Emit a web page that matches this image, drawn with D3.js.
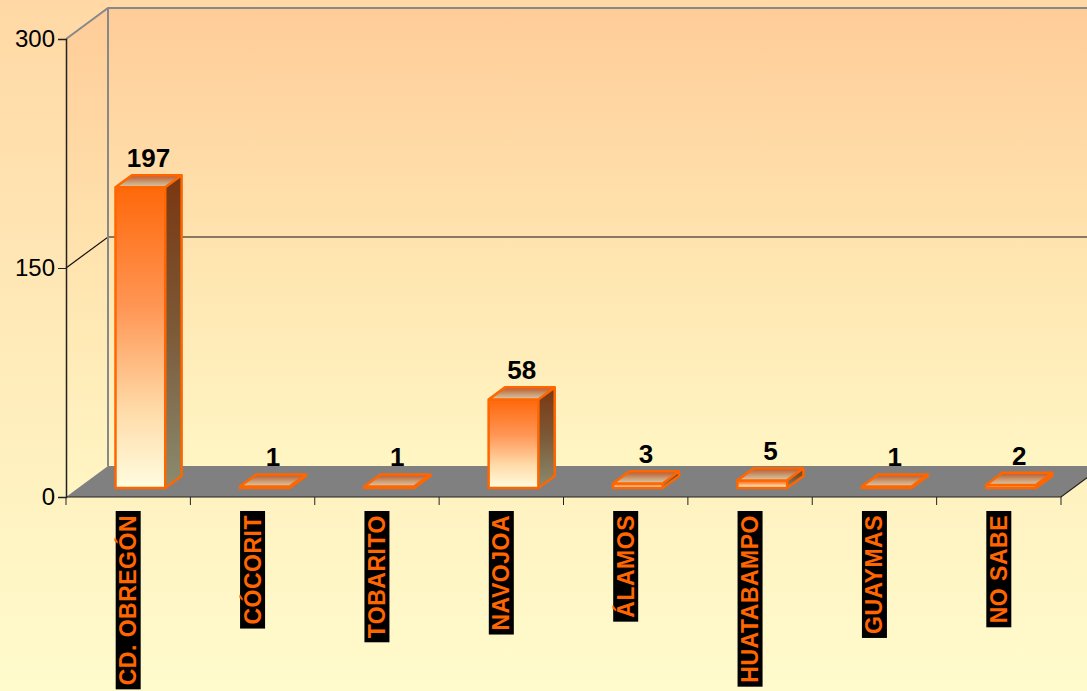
<!DOCTYPE html>
<html>
<head>
<meta charset="utf-8">
<script src="https://cdn.jsdelivr.net/npm/d3@7"></script>
<style>
  body { margin: 0; overflow: hidden; }
  text { font-family: Arial, "Liberation Sans", sans-serif; }
</style>
</head>
<body>
<script>
var svgWidth = 1087;
var svgHeight = 691;

// data
var categories = ["CD. OBREGÓN", "CÓCORIT", "TOBARITO", "NAVOJOA", "ÁLAMOS", "HUATABAMPO", "GUAYMAS", "NO SABE"];
var values = [197, 1, 1, 58, 3, 5, 1, 2];
var yTicks = [0, 150, 300];

var margin = { top: 39, right: 26, bottom: 194, left: 66 };
var width = svgWidth - margin.left - margin.right;   // front plane width
var height = svgHeight - margin.top - margin.bottom; // front plane height

// depth of the 3d box
var depthX = 42;
var depthY = 31;
var zFront = 0.29, zBack = 0.68;

var svg = d3.select("body")
  .append("svg")
  .attr("width", svgWidth)
  .attr("height", svgHeight);

var defs = svg.append("defs");

function linGrad(id, stops, x2, y2) {
  var g = defs.append("linearGradient").attr("id", id)
    .attr("x1", 0).attr("y1", 0).attr("x2", x2).attr("y2", y2);
  stops.forEach(function (s) {
    g.append("stop").attr("offset", s[0]).attr("stop-color", s[1]);
  });
}
linGrad("bg", [[0, "#ffd8a5"], [0.5, "#ffebb9"], [1, "#fffbcc"]], 0, 1);
linGrad("wall", [[0, "#ffcc98"], [0.5, "#ffe3ae"], [1, "#fff6c4"]], 0, 1);
linGrad("front", [[0, "#ff680a"], [0.4, "#ff9655"], [0.75, "#ffdcaa"], [1, "#fffde0"]], 0, 1);
linGrad("side", [[0, "#7a3610"], [0.5, "#7c5a38"], [1, "#8a8c70"]], 0, 1);
linGrad("top", [[0, "#b85a30"], [0.3, "#c47a50"], [0.6, "#caa078"], [1, "#dcc8a8"]], 0, 1);

svg.append("rect")
  .attr("width", svgWidth)
  .attr("height", svgHeight)
  .attr("fill", "url(#bg)");

var chartGroup = svg.append("g")
  .attr("transform", `translate(${margin.left}, ${margin.top})`);

var xBand = d3.scaleBand()
  .domain(categories)
  .range([0, width])
  .paddingInner(0.6)
  .paddingOuter(0.3);

var xEdge = d3.scaleLinear().domain([0, categories.length]).range([0, width]);

var yLinearScale = d3.scaleLinear()
  .domain([0, 300])
  .range([height, 0]);

// project a point (x on front plane, value, depth 0..1)
function px(x, z) { return x + z * depthX; }
function py(v, z) { return yLinearScale(v) - z * depthY; }

var line = d3.line();

// side wall
chartGroup.append("path")
  .attr("d", line([[px(0, 0), py(300, 0)], [px(0, 1), py(300, 1)], [px(0, 1), py(0, 1)], [px(0, 0), py(0, 0)]]) + "Z")
  .attr("fill", "url(#wall)");

// back wall
chartGroup.append("rect")
  .attr("x", px(0, 1))
  .attr("y", py(300, 1))
  .attr("width", svgWidth - margin.left - px(0, 1))
  .attr("height", py(0, 1) - py(300, 1))
  .attr("fill", "url(#wall)");

// gridlines
yTicks.filter(d => d > 0 && d < 300).forEach(function (t) {
  chartGroup.append("path")
    .attr("d", line([[px(0, 0), py(t, 0)], [px(0, 1), py(t, 1)], [svgWidth, py(t, 1)]]))
    .attr("fill", "none")
    .attr("stroke", "#111")
    .attr("stroke-width", 1.2);
});

// wall outlines
chartGroup.append("path")
  .attr("d", line([[px(0, 0), py(300, 0)], [px(0, 1), py(300, 1)], [svgWidth, py(300, 1)]]))
  .attr("fill", "none")
  .attr("stroke", "#888")
  .attr("stroke-width", 2);
chartGroup.append("line")
  .attr("x1", px(0, 1)).attr("x2", px(0, 1))
  .attr("y1", py(300, 1)).attr("y2", py(0, 1))
  .attr("stroke", "#888")
  .attr("stroke-width", 2);

// floor
chartGroup.append("path")
  .attr("d", line([[px(0, 0), py(0, 0)], [px(width, 0), py(0, 0)], [px(width, 1), py(0, 1)], [px(0, 1), py(0, 1)]]) + "Z")
  .attr("fill", "#808080");
chartGroup.append("path")
  .attr("d", line([[px(0, 0), py(0, 0)], [px(width, 0), py(0, 0)], [px(width, 1), py(0, 1)]]))
  .attr("fill", "none")
  .attr("stroke", "#222")
  .attr("stroke-width", 1.2);

// left axis
var leftAxis = d3.axisLeft(yLinearScale)
  .tickValues(yTicks)
  .tickSize(8)
  .tickPadding(3);
var yAxis = chartGroup.append("g").call(leftAxis);
yAxis.select(".domain").attr("stroke", "#222").attr("stroke-width", 1.5);
yAxis.selectAll(".tick line").attr("stroke", "#222");
yAxis.selectAll("text")
  .attr("font-size", "24px")
  .attr("font-family", "Arial, 'Liberation Sans', sans-serif")
  .attr("fill", "#000");

// bottom ticks
chartGroup.selectAll(".xtick")
  .data(d3.range(categories.length + 1))
  .enter()
  .append("line")
  .attr("class", "xtick")
  .attr("x1", d => xEdge(d)).attr("x2", d => xEdge(d))
  .attr("y1", height).attr("y2", height + 8)
  .attr("stroke", "#222");

// bars
var bars = chartGroup.selectAll(".bar")
  .data(values)
  .enter()
  .append("g")
  .attr("class", "bar");

bars.each(function (v, i) {
  var g = d3.select(this);
  var x0 = xBand(categories[i]);
  var x1 = x0 + xBand.bandwidth();
  var front = [[px(x0, zFront), py(v, zFront)], [px(x1, zFront), py(v, zFront)], [px(x1, zFront), py(0, zFront)], [px(x0, zFront), py(0, zFront)]];
  var side = [[px(x1, zFront), py(v, zFront)], [px(x1, zBack), py(v, zBack)], [px(x1, zBack), py(0, zBack)], [px(x1, zFront), py(0, zFront)]];
  var top = [[px(x0, zFront), py(v, zFront)], [px(x0, zBack), py(v, zBack)], [px(x1, zBack), py(v, zBack)], [px(x1, zFront), py(v, zFront)]];
  g.append("path").attr("d", line(side) + "Z").attr("fill", "url(#side)");
  g.append("path").attr("d", line(front) + "Z").attr("fill", "url(#front)");
  g.append("path").attr("d", line(top) + "Z").attr("fill", "url(#top)");
  g.append("path")
    .attr("d", line([front[3], front[0], top[1], top[2], side[2], side[3]]) + "Z"
      + "M" + front[1] + "L" + top[2] + "M" + front[1] + "L" + front[2] + "M" + front[0] + "L" + front[1])
    .attr("fill", "none")
    .attr("stroke", "#ff6600")
    .attr("stroke-width", 2.5)
    .attr("stroke-linejoin", "round");
});

// value labels
chartGroup.selectAll(".vlabel")
  .data(values)
  .enter()
  .append("text")
  .attr("class", "vlabel")
  .attr("x", (d, i) => px(xBand(categories[i]) + xBand.bandwidth() / 2, (zFront + zBack) / 2))
  .attr("y", d => py(d, zBack) - 8)
  .attr("text-anchor", "middle")
  .attr("font-size", "26px")
  .attr("font-weight", "bold")
  .attr("fill", "#000")
  .text(d => d);

// category labels, vertical on black boxes
var catLabels = chartGroup.selectAll(".clabel")
  .data(categories)
  .enter()
  .append("g")
  .attr("class", "clabel")
  .attr("transform", d => `translate(${xBand(d) + xBand.bandwidth() / 2}, ${height + 14}) rotate(-90)`);

catLabels.append("text")
  .attr("x", -4)
  .attr("y", 8)
  .attr("text-anchor", "end")
  .attr("font-size", "23px")
  .attr("font-weight", "bold")
  .attr("letter-spacing", "0.5px")
  .attr("fill", "#ff6600")
  .text(d => d)
  .each(function () {
    var b = this.getBBox();
    d3.select(this.parentNode).insert("rect", "text")
      .attr("x", b.x - 4)
      .attr("y", -12.5)
      .attr("width", b.width + 8)
      .attr("height", 25)
      .attr("fill", "#000");
  });
</script>
</body>
</html>
